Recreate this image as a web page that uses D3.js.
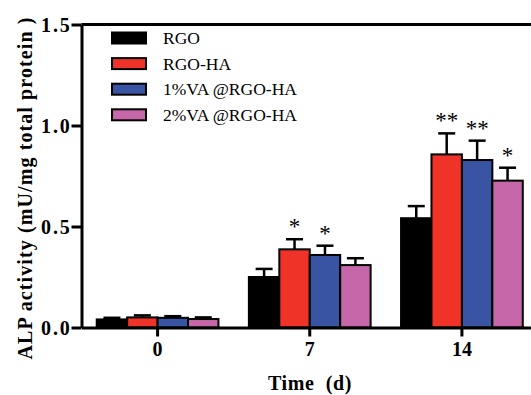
<!DOCTYPE html>
<html>
<head>
<meta charset="utf-8">
<script src="https://cdn.jsdelivr.net/npm/d3@7"></script>
<style>
    html, body { margin: 0; padding: 0; background: #fff; }
    svg { display: block; }
</style>
</head>
<body>
<script>
const fontFamily = "\"Liberation Serif\", \"Times New Roman\", serif";

// data
const days = ["0", "7", "14"];
const seriesNames = ["RGO", "RGO-HA", "1%VA @RGO-HA", "2%VA @RGO-HA"];
const seriesColors = ["#000000", "#ef3329", "#3a54a4", "#c567a9"];
const rgoMean = [0.040, 0.250, 0.541];
const rgoErr = [0.008, 0.040, 0.060];
const rgoHaMean = [0.050, 0.387, 0.857];
const rgoHaErr = [0.010, 0.050, 0.104];
const va1Mean = [0.048, 0.359, 0.829];
const va1Err = [0.008, 0.046, 0.096];
const va2Mean = [0.042, 0.309, 0.727];
const va2Err = [0.008, 0.034, 0.064];
const rgoStars = ["", "", ""];
const rgoHaStars = ["", "*", "**"];
const va1Stars = ["", "*", "**"];
const va2Stars = ["", "", "*"];
const yTicks = [0, 0.5, 1.0, 1.5];

const width = 531;
const height = 395;

const means = [rgoMean, rgoHaMean, va1Mean, va2Mean];
const errs = [rgoErr, rgoHaErr, va1Err, va2Err];
const stars = [rgoStars, rgoHaStars, va1Stars, va2Stars];

let bars = [];
days.forEach((day, i) => {
    seriesNames.forEach((name, s) => {
        bars.push({ day: day, name: name, color: seriesColors[s], mean: means[s][i], err: errs[s][i], star: stars[s][i] });
    });
});

const svg = d3.select("body").append("svg")
    .attr("width", width)
    .attr("height", height);

const y = d3.scaleLinear().domain([0, 1.5]).range([327.5, 24.5]);
const x0 = d3.scaleBand().domain(days).range([81.5, 538]).paddingInner(0.2).paddingOuter(0.1);
const x1 = d3.scaleBand().domain(seriesNames).range([0, x0.bandwidth()]);

function barCenter(d) {
    return x0(d.day) + x1(d.name) + x1.bandwidth() / 2;
}

// frame top
svg.append("line")
    .attr("x1", 81.5).attr("x2", width + 5)
    .attr("y1", y(1.5)).attr("y2", y(1.5))
    .attr("stroke", "#000").attr("stroke-width", 3);

// bars
let g = svg.append("g");
g.selectAll("rect.bar")
    .data(bars)
    .enter()
    .append("rect")
    .classed("bar", true)
    .attr("x", d => x0(d.day) + x1(d.name))
    .attr("y", d => y(d.mean))
    .attr("width", x1.bandwidth())
    .attr("height", d => y(0) - y(d.mean))
    .attr("fill", d => d.color)
    .attr("stroke", "#000")
    .attr("stroke-width", 2);

// error bars
g.selectAll("line.err")
    .data(bars)
    .enter()
    .append("line")
    .classed("err", true)
    .attr("x1", barCenter)
    .attr("x2", barCenter)
    .attr("y1", d => y(d.mean))
    .attr("y2", d => y(d.mean + d.err))
    .attr("stroke", "#000")
    .attr("stroke-width", 2.5);

g.selectAll("line.cap")
    .data(bars)
    .enter()
    .append("line")
    .classed("cap", true)
    .attr("x1", d => barCenter(d) - 8.5)
    .attr("x2", d => barCenter(d) + 8.5)
    .attr("y1", d => y(d.mean + d.err))
    .attr("y2", d => y(d.mean + d.err))
    .attr("stroke", "#000")
    .attr("stroke-width", 2.5);

// significance stars
g.selectAll("text.star")
    .data(bars.filter(d => d.star !== ""))
    .enter()
    .append("text")
    .classed("star", true)
    .attr("x", barCenter)
    .attr("y", d => y(d.mean + d.err) - 5)
    .attr("text-anchor", "middle")
    .attr("font-family", fontFamily)
    .attr("font-size", 23)
    .text(d => d.star);

// axes
let yAxis = svg.append("g")
    .attr("transform", "translate(81.5,0)")
    .call(d3.axisLeft(y).tickValues(yTicks).tickFormat(d3.format(".1f")).tickSize(10).tickSizeOuter(0));

let xAxis = svg.append("g")
    .attr("transform", "translate(0," + y(0) + ")")
    .call(d3.axisBottom(x0).tickSize(9).tickSizeOuter(0));

[yAxis, xAxis].forEach(ax => {
    ax.selectAll("path.domain").attr("stroke-width", 3);
    ax.selectAll(".tick line").attr("stroke-width", 3);
    ax.selectAll("text")
        .attr("font-family", fontFamily)
        .attr("font-weight", "bold")
        .attr("font-size", 20)
        .attr("fill", "#000");
});
yAxis.selectAll("text")
    .attr("x", -10)
    .attr("dy", "0.34em")
    .attr("letter-spacing", 1.8);
xAxis.selectAll("text").attr("y", 14).attr("dy", "0.71em");

// axis titles
svg.append("text")
    .attr("x", 310)
    .attr("y", 390)
    .attr("text-anchor", "middle")
    .attr("font-family", fontFamily)
    .attr("font-weight", "bold")
    .attr("font-size", 20)
    .attr("letter-spacing", 0.6)
    .text("Time  (d)")
    .style("white-space", "pre");

svg.append("text")
    .attr("transform", "translate(32,188) rotate(-90)")
    .attr("text-anchor", "middle")
    .attr("font-family", fontFamily)
    .attr("font-weight", "bold")
    .attr("font-size", 20)
    .attr("letter-spacing", 1.1)
    .text("ALP activity (mU/mg total protein )");

// legend
let legend = svg.append("g")
    .selectAll("g.item")
    .data(seriesNames)
    .enter()
    .append("g")
    .classed("item", true)
    .attr("transform", (d, i) => "translate(112," + (38 + i * 25.6) + ")");

legend.append("rect")
    .attr("x", 0)
    .attr("y", -5.5)
    .attr("width", 34)
    .attr("height", 11)
    .attr("fill", (d, i) => seriesColors[i])
    .attr("stroke", "#000")
    .attr("stroke-width", 2);

legend.append("text")
    .attr("x", 51)
    .attr("y", 6)
    .attr("font-family", fontFamily)
    .attr("font-size", 17.5)
    .text(d => d);
</script>
</body>
</html>
